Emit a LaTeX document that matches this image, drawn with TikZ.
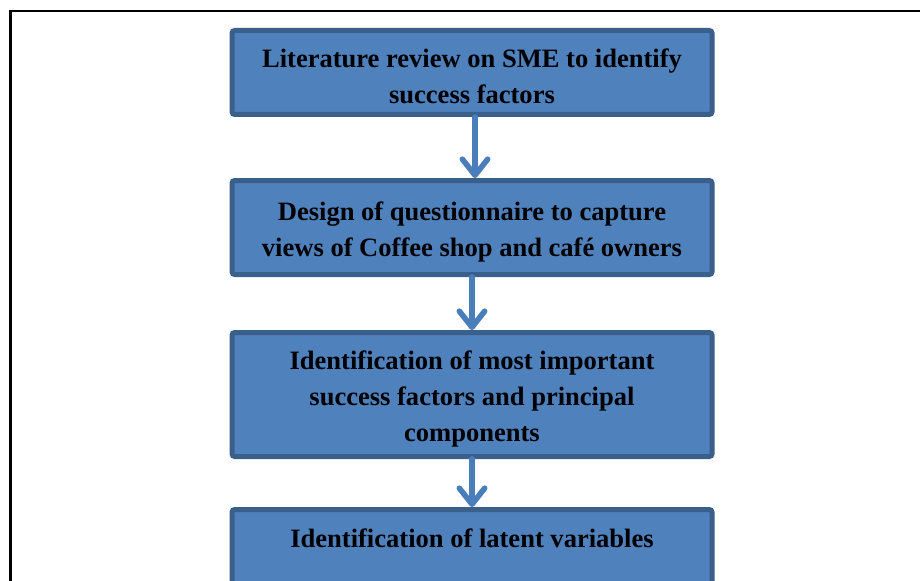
\documentclass[tikz,border=0pt]{standalone}
\usepackage{fontspec}
\setmainfont{Liberation Serif}
\usetikzlibrary{arrows.meta}
\definecolor{boxfill}{HTML}{4F81BD}
\definecolor{boxline}{HTML}{3A5F8B}
\definecolor{arrowblue}{HTML}{4A7EBB}
\newcommand{\topgap}{\rule{0pt}{20pt}}
\tikzset{
  stagebox/.style={draw=boxline, fill=boxfill, line width=3.75pt, rounded corners=2pt,
    minimum width=360pt, align=center, inner sep=0pt,
    font=\fontsize{19.9}{27}\selectfont\bfseries},
  flowarrow/.style={draw=arrowblue, line width=4.2pt, line cap=round,
    -{Straight Barb[length=12pt,width=19pt,line cap=round,line join=round]}}
}

\begin{document}
\begin{tikzpicture}[x=0.75pt,y=0.75pt,yscale=-1,xscale=1]
    \useasboundingbox (0,0) rectangle (920,581);

    %Frame
    \draw[line width=1.9pt] (10.5,11) rectangle (940,600);

    % Stage boxes
    \node [stagebox, minimum height=63pt] (litreview) at (472,72.5)
      {\topgap Literature review on SME to identify\\success factors};
    \node [stagebox, minimum height=70.5pt] (questionnaire) at (472,227.5)
      {\topgap Design of questionnaire to capture\\views of Coffee shop and caf\'e owners};
    \node [stagebox, minimum height=93pt] (factors) at (472,394.5)
      {\topgap Identification of most important\\success factors and principal\\components};
    \node [stagebox, minimum height=70.5pt] (latent) at (472,556.5)
      {Identification of latent variables\\\mbox{}};

    % Arrows
    \draw [flowarrow] ([xshift=2.25pt]litreview.south) -- ([xshift=2.25pt]questionnaire.north);
    \draw [flowarrow] (questionnaire.south) -- (factors.north);
    \draw [flowarrow] (factors.south) -- (latent.north);

\end{tikzpicture}
\end{document}
